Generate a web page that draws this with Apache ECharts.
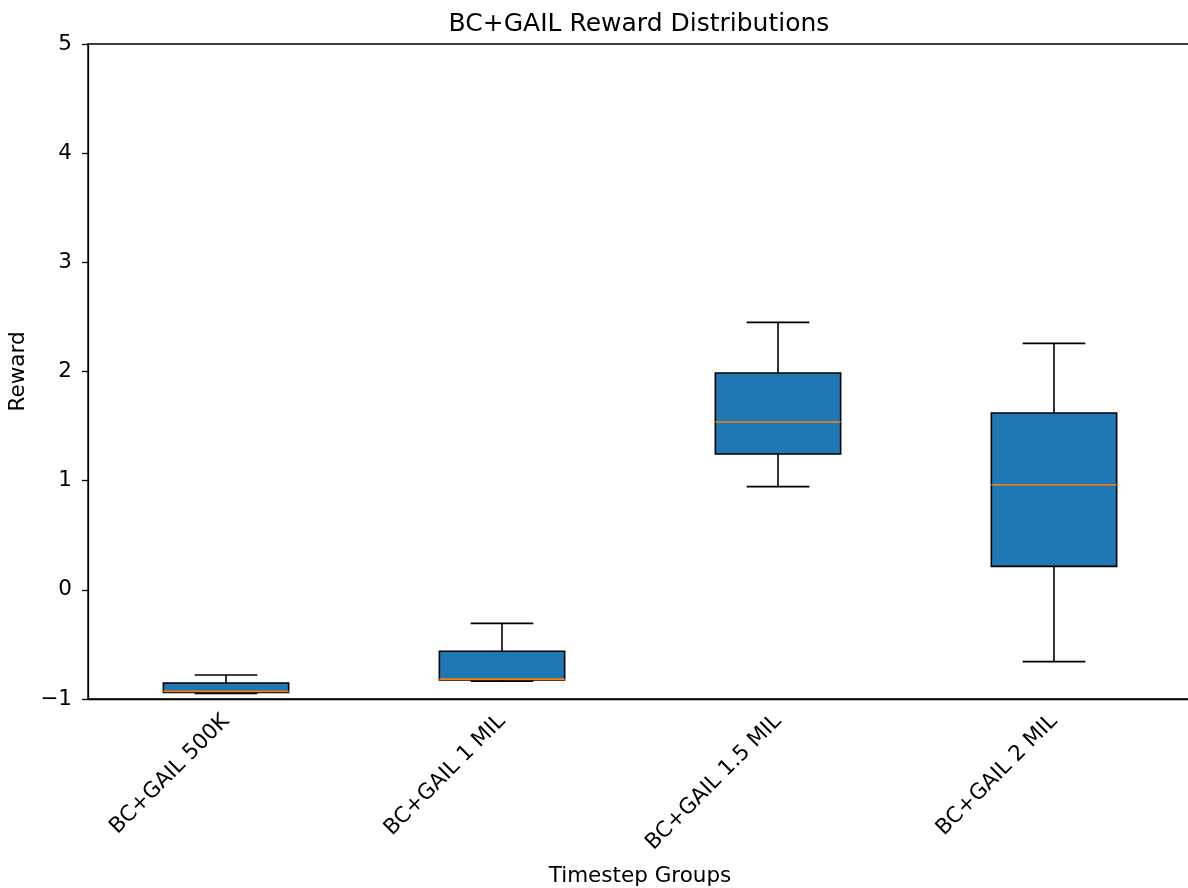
<!DOCTYPE html>
<html>
<head>
<meta charset="utf-8">
<script src="https://cdn.jsdelivr.net/npm/echarts@6/dist/echarts.min.js"></script>
<style>
  html, body { margin: 0; padding: 0; background: #fff; }
  #chart { width: 1188px; height: 888px; }
</style>
</head>
<body>
<div id="chart"></div>
<script>
// Reward summary per training budget (five-number summary of each box)
const categories = ['BC+GAIL 500K', 'BC+GAIL 1 MIL', 'BC+GAIL 1.5 MIL', 'BC+GAIL 2 MIL'];
const whiskerLow  = [-0.95, -0.838, 0.945, -0.658];
const q1          = [-0.94, -0.826, 1.244, 0.215];
const median      = [-0.93, -0.818, 1.537, 0.963];
const q3          = [-0.853, -0.563, 1.986, 1.62];
const whiskerHigh = [-0.78, -0.307, 2.45, 2.258];
const yTicks = [-1, 0, 1, 2, 3, 4, 5];

const FONT = 'DejaVu Sans';
const boxData = categories.map((c, i) => [i, whiskerLow[i], q1[i], median[i], q3[i], whiskerHigh[i]]);

function renderBox(params, api) {
  const x = api.value(0);
  const band = api.size([1, 0])[0];
  const halfBox = band * 0.227;
  const halfCap = halfBox / 2;
  const pLow = api.coord([x, api.value(1)]);
  const pQ1 = api.coord([x, api.value(2)]);
  const pMed = api.coord([x, api.value(3)]);
  const pQ3 = api.coord([x, api.value(4)]);
  const pHigh = api.coord([x, api.value(5)]);
  const cx = pQ1[0];
  const black = { stroke: '#000', lineWidth: 1.6, fill: null };
  return {
    type: 'group',
    children: [
      { type: 'line', shape: { x1: cx, y1: pQ1[1], x2: cx, y2: pLow[1] }, style: black },
      { type: 'line', shape: { x1: cx, y1: pQ3[1], x2: cx, y2: pHigh[1] }, style: black },
      { type: 'line', shape: { x1: cx - halfCap, y1: pLow[1], x2: cx + halfCap, y2: pLow[1] }, style: black },
      { type: 'line', shape: { x1: cx - halfCap, y1: pHigh[1], x2: cx + halfCap, y2: pHigh[1] }, style: black },
      { type: 'rect', shape: { x: cx - halfBox, y: pQ3[1], width: halfBox * 2, height: pQ1[1] - pQ3[1] },
        style: { fill: '#1f77b4', stroke: '#000', lineWidth: 1.6 } },
      { type: 'line', shape: { x1: cx - halfBox, y1: pMed[1], x2: cx + halfBox, y2: pMed[1] },
        style: { stroke: '#ff7f0e', lineWidth: 1.6 } }
    ]
  };
}

const chart = echarts.init(document.getElementById('chart'), null, { renderer: 'canvas' });
chart.setOption({
  animation: false,
  backgroundColor: '#fff',
  title: {
    text: 'BC+GAIL Reward Distributions',
    left: 634, top: 7, textAlign: 'center',
    textStyle: { fontFamily: FONT, fontSize: 25, fontWeight: 'normal', color: '#000' }
  },
  grid: {
    left: 88, top: 44, right: -4, bottom: 189,
    containLabel: false, outerBoundsMode: 'none',
    show: true, borderColor: '#000', borderWidth: 1.3, backgroundColor: 'transparent'
  },
  xAxis: {
    type: 'category',
    data: categories,
    name: 'Timestep Groups',
    nameLocation: 'middle',
    nameGap: 166,
    nameTextStyle: { fontFamily: FONT, fontSize: 21.5, color: '#000' },
    axisLine: { onZero: false, lineStyle: { color: '#000', width: 1.3 } },
    axisTick: { alignWithLabel: true, length: 6, lineStyle: { color: '#000', width: 1.3 } },
    axisLabel: { rotate: 45, margin: 19, fontFamily: FONT, fontSize: 21.5, color: '#000' },
    splitLine: { show: false }
  },
  yAxis: {
    type: 'value',
    min: yTicks[0], max: yTicks[yTicks.length - 1], interval: 1,
    name: 'Reward',
    nameLocation: 'middle',
    nameGap: 57,
    nameTextStyle: { fontFamily: FONT, fontSize: 21.5, color: '#000' },
    axisLine: { show: true, lineStyle: { color: '#000', width: 1.3 } },
    axisTick: { show: true, length: 6, lineStyle: { color: '#000', width: 1.3 } },
    axisLabel: { margin: 16, fontFamily: FONT, fontSize: 21.5, color: '#000',
      formatter: v => (v < 0 ? '\u2212' + Math.abs(v) : String(v)) },
    splitLine: { show: false }
  },
  series: [{
    type: 'custom',
    renderItem: renderBox,
    encode: { x: 0, y: [1, 2, 3, 4, 5] },
    data: boxData
  }]
});
</script>
</body>
</html>
